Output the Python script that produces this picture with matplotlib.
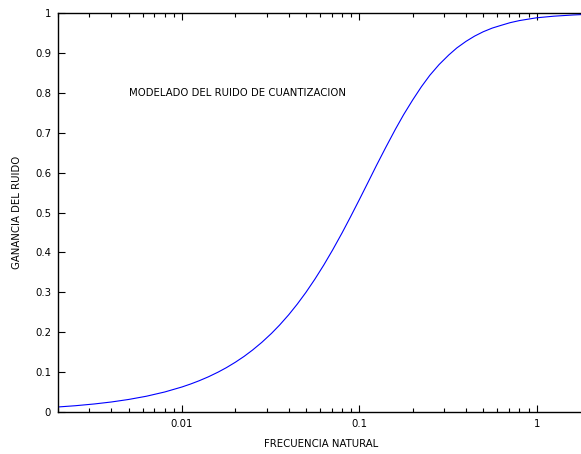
import matplotlib
matplotlib.use("Agg")
import matplotlib.pyplot as plt
from matplotlib.ticker import FixedLocator, LogLocator, NullFormatter

# frequency (log axis) and noise gain
freq = [0.002, 0.0025, 0.0032, 0.004, 0.005, 0.0063, 0.008, 0.01, 0.0112,
        0.0125, 0.0141, 0.016, 0.0178, 0.02, 0.0224, 0.025, 0.0282, 0.032,
        0.0355, 0.04, 0.0447, 0.05, 0.0562, 0.063, 0.0708, 0.08, 0.0891,
        0.1, 0.112, 0.125, 0.141, 0.16, 0.178, 0.2, 0.224, 0.25, 0.282,
        0.32, 0.355, 0.4, 0.447, 0.5, 0.562, 0.63, 0.708, 0.8, 0.891, 1.0,
        1.25, 1.6, 2.0]
gain = [0.0126, 0.0157, 0.0201, 0.0251, 0.0314, 0.0395, 0.0502, 0.0627,
        0.0702, 0.0783, 0.0882, 0.1000, 0.1111, 0.1247, 0.1393, 0.1552,
        0.1745, 0.1971, 0.2177, 0.2437, 0.2704, 0.2997, 0.3330, 0.368,
        0.4064, 0.449, 0.4885, 0.532, 0.5755, 0.618, 0.6631, 0.709, 0.7455,
        0.782, 0.8152, 0.844, 0.8709, 0.895, 0.9125, 0.929, 0.9421, 0.953,
        0.9622, 0.969, 0.9757, 0.981, 0.9844, 0.988, 0.992, 0.995, 0.997]

xticks = [0.01, 0.1, 1]
xtick_labels = ["0.01", "0.1", "1"]
yticks = [0, 0.1, 0.2, 0.3, 0.4, 0.5, 0.6, 0.7, 0.8, 0.9, 1]
ytick_labels = ["0", "0.1", "0.2", "0.3", "0.4", "0.5", "0.6", "0.7", "0.8", "0.9", "1"]

W, H = 581, 454
FS = 7.3
fig = plt.figure(figsize=(W / 100, H / 100), dpi=100)
# plot box: left 58px, top 13px, bottom 412px; right edge runs off the canvas
ax = fig.add_axes([58 / W, (H - 412) / H, (590 - 58) / W, (412 - 13) / H])

ax.plot(freq, gain, color="#0000ff", lw=0.8)
ax.set_xscale("log")
ax.set_xlim(0.002, 2.0)
ax.set_ylim(0, 1)

ax.xaxis.set_major_locator(FixedLocator(xticks))
ax.set_xticklabels(xtick_labels)
ax.xaxis.set_minor_locator(LogLocator(base=10, subs=range(2, 10)))
ax.xaxis.set_minor_formatter(NullFormatter())
ax.set_yticks(yticks)
ax.set_yticklabels(ytick_labels)

ax.tick_params(which="both", direction="in", top=True, right=False,
               labelsize=FS, colors="black", width=0.8)
ax.tick_params(which="major", length=5, pad=5)
ax.tick_params(which="minor", length=3)
for s in ax.spines.values():
    s.set_linewidth(1.0)

ax.text(0.005, 0.8, "MODELADO DEL RUIDO DE CUANTIZACION", ha="left",
        va="center", fontsize=FS)
fig.text(321 / W, 1 - 444 / H, "FRECUENCIA NATURAL", ha="center",
         va="center", fontsize=FS)
fig.text(17 / W, 1 - 212 / H, "GANANCIA DEL RUIDO", ha="center",
         va="center", rotation=90, fontsize=FS)

fig.savefig("out.png", dpi=100)
